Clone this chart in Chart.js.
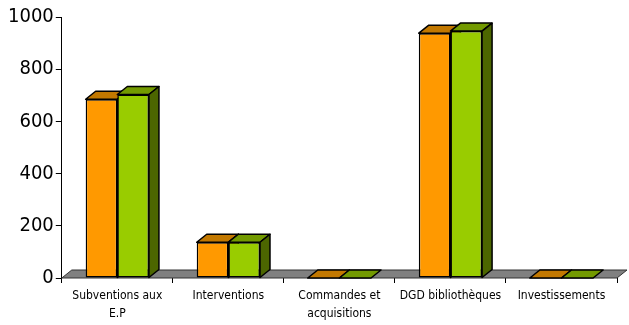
<!DOCTYPE html>
<html>
<head>
<meta charset="utf-8">
<script src="https://cdn.jsdelivr.net/npm/chart.js@4/dist/chart.umd.min.js"></script>
<style>
  html, body { margin: 0; padding: 0; background: #fff; }
  #wrap { width: 629px; height: 325px; }
</style>
</head>
<body>
<div id="wrap"><canvas id="chart"></canvas></div>
<script>
const categories = [
  ["Subventions aux", "E.P"],
  "Interventions",
  ["Commandes et", "acquisitions"],
  "DGD bibliothèques",
  "Investissements",
];
const seriesA = [685, 137, 0, 938, 0];
const seriesB = [703, 137, 0, 946, 0];
const yTicks = [0, 200, 400, 600, 800, 1000];

// depth of the fake 3D extrusion
const DX = 10, DY = 8;

const faces = [
  { front: "#FF9900", top: "#C27800", side: "#8A5500" },
  { front: "#99CC00", top: "#739A00", side: "#4C6600" },
];

function poly(ctx, pts, fill) {
  ctx.beginPath();
  ctx.moveTo(pts[0][0], pts[0][1]);
  for (let i = 1; i < pts.length; i++) ctx.lineTo(pts[i][0], pts[i][1]);
  ctx.closePath();
  ctx.fillStyle = fill;
  ctx.fill();
  ctx.stroke();
}

// bars are painted here, series by series, so each green front hides the orange side
const depth3d = {
  id: "depth3d",
  beforeDatasetsDraw(chart) {
    const { ctx, chartArea: a } = chart;
    ctx.save();
    ctx.strokeStyle = "#333";
    ctx.lineWidth = 1;
    poly(ctx, [[a.left, a.bottom], [a.right, a.bottom], [a.right + DX, a.bottom - DY], [a.left + DX, a.bottom - DY]], "#808080");
    ctx.restore();
  },
  beforeDatasetDraw() {
    return false;
  },
  afterDatasetsDraw(chart) {
    const { ctx } = chart;
    [0, 1].forEach((di) => {
      const meta = chart.getDatasetMeta(di);
      const f = faces[di];
      meta.data.forEach((bar) => {
        const p = bar.getProps(["x", "y", "base", "width"], true);
        if (p.base - p.y > 0.5) bar.draw(ctx);
        const x0 = p.x - p.width / 2, x1 = p.x + p.width / 2;
        ctx.save();
        ctx.strokeStyle = "#000";
        ctx.lineWidth = 1.5;
        ctx.lineJoin = "round";
        poly(ctx, [[x0, p.y], [x1, p.y], [x1 + DX, p.y - DY], [x0 + DX, p.y - DY]], f.top);
        if (p.base - p.y > 0.5) {
          poly(ctx, [[x1, p.y], [x1 + DX, p.y - DY], [x1 + DX, p.base - DY], [x1, p.base]], f.side);
        }
        ctx.restore();
      });
    });
  },
};

new Chart(document.getElementById("chart"), {
  type: "bar",
  data: {
    labels: categories,
    datasets: [
      { data: seriesA, backgroundColor: faces[0].front },
      { data: seriesB, backgroundColor: faces[1].front },
    ].map((d) => Object.assign(d, {
      borderColor: "#000",
      borderWidth: 1.5,
      borderSkipped: false,
      categoryPercentage: 0.57,
      barPercentage: 1.0,
    })),
  },
  options: {
    responsive: true,
    maintainAspectRatio: false,
    animation: false,
    layout: { padding: { left: 6, right: 12, top: 17, bottom: 0 } },
    plugins: { legend: { display: false }, tooltip: { enabled: false } },
    scales: {
      x: {
        afterFit: (axis) => { axis.height = 47; },
        grid: { offset: true, drawOnChartArea: false, drawTicks: true, tickLength: 5, color: "#000" },
        border: { display: false },
        ticks: {
          color: "#000",
          padding: 4,
          maxRotation: 0,
          autoSkip: false,
          font: { family: "'DejaVu Sans Condensed', 'DejaVu Sans'", size: 12, lineHeight: 1.5 },
        },
      },
      y: {
        min: 0,
        max: 1000,
        afterBuildTicks: (axis) => { axis.ticks = yTicks.map((v) => ({ value: v })); },
        grid: { drawOnChartArea: false, drawTicks: true, tickLength: 6, color: "#000" },
        border: { display: true, color: "#000", width: 1 },
        ticks: {
          color: "#000",
          padding: 2,
          callback: (v) => String(v),
          font: { family: "'DejaVu Sans Condensed', 'DejaVu Sans'", size: 20 },
        },
      },
    },
  },
  plugins: [depth3d],
});
</script>
</body>
</html>
